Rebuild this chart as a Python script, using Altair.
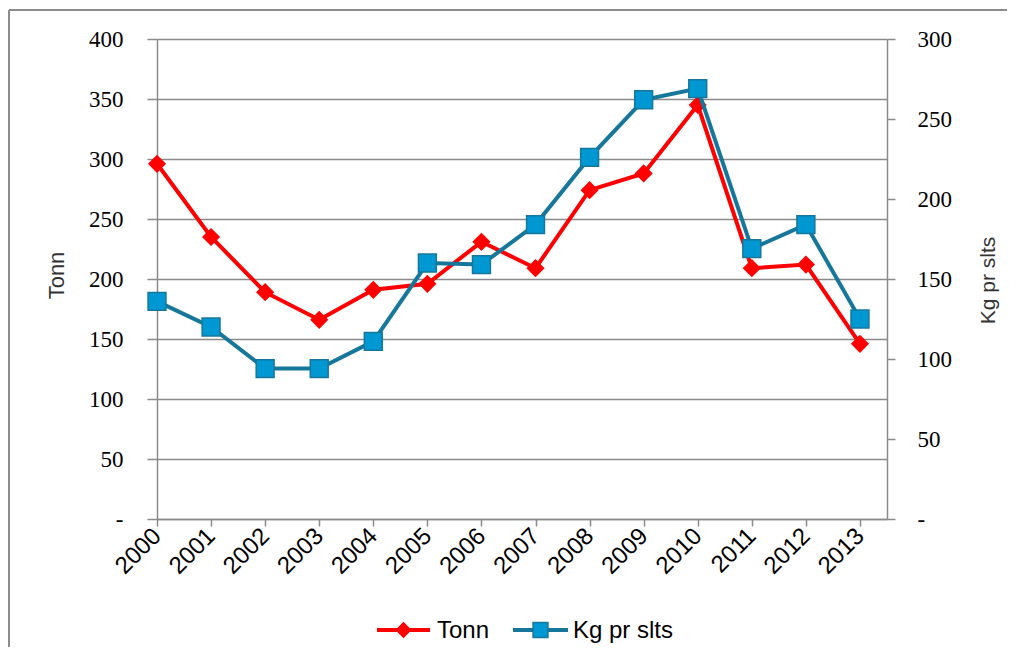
import altair as alt
import pandas as pd

years = [2000, 2001, 2002, 2003, 2004, 2005, 2006, 2007, 2008, 2009, 2010, 2011, 2012, 2013]
tonn = [296, 235, 189, 166, 191, 196, 231, 209, 274, 288, 345, 209, 212, 146]
kg_pr_slts = [136, 120, 94, 94, 111, 160, 159, 184, 226, 262, 269, 169, 184, 125]
series_names = ["Tonn", "Kg pr slts"]
left_ticks = [0, 50, 100, 150, 200, 250, 300, 350, 400]
right_ticks = [0, 50, 100, 150, 200, 250, 300]

df = pd.DataFrame({"year": years, "tonn": tonn, "kg": kg_pr_slts})

W, H = 730, 480
RED = "#FF0000"
TEAL = "#17779A"
BLUE = "#0098D2"
GRID = "#8A8A8A"
NUMFONT = "Liberation Serif"
SANS = "Liberation Sans"

x_enc = alt.X(
    "year:Q",
    scale=alt.Scale(domain=[2000, 2013.5], nice=False, zero=False),
    axis=alt.Axis(
        values=years, format="d", title=None, grid=False,
        labelAngle=-45, labelAlign="right", labelBaseline="middle",
        labelFont=SANS, labelFontSize=24, labelColor="#000000",
        labelPadding=6, tickSize=7, tickColor=GRID, tickWidth=1.5,
        domainColor=GRID, domainWidth=1.5, labelOverlap=False,
    ),
)

zero_dash = "datum.value == 0 ? '-' : datum.label"

y_left = alt.Y(
    "tonn:Q",
    scale=alt.Scale(domain=[0, 400], nice=False),
    axis=alt.Axis(
        values=left_ticks, title="Tonn", grid=True, gridColor=GRID, gridWidth=1.5,
        labelExpr=zero_dash, labelFont=NUMFONT, labelFontSize=23, labelColor="#000000",
        labelPadding=24, tickSize=10, tickColor=GRID, tickWidth=1.5,
        domainColor=GRID, domainWidth=1.5,
        titleFont=SANS, titleFontSize=22, titleFontWeight="normal", titleColor="#333333",
        titleAngle=270, titleX=-101, titleY=236, titleAlign="center", titleBaseline="middle",
    ),
)

y_right = alt.Y(
    "kg:Q",
    scale=alt.Scale(domain=[0, 300], nice=False),
    axis=alt.Axis(
        orient="right", values=right_ticks, title="Kg pr slts", grid=False,
        labelExpr=zero_dash, labelFont=NUMFONT, labelFontSize=23, labelColor="#000000",
        labelPadding=22, tickSize=8, tickColor=GRID, tickWidth=1.5,
        domainColor=GRID, domainWidth=1.5,
        titleFont=SANS, titleFontSize=21, titleFontWeight="normal", titleColor="#333333",
        titleAngle=270, titleX=101, titleY=241, titleAlign="center", titleBaseline="middle",
    ),
)

base = alt.Chart(df)

tonn_line = base.mark_line(color=RED, strokeWidth=4).encode(x=x_enc, y=y_left)
tonn_pts = base.mark_point(shape="diamond", filled=True, color=RED, size=330, opacity=1).encode(x=x_enc, y=y_left)
tonn_layer = alt.layer(tonn_line, tonn_pts)

kg_line = base.mark_line(color=TEAL, strokeWidth=4).encode(x=x_enc, y=y_right)
kg_pts = base.mark_point(shape="square", filled=True, fill=BLUE, stroke=TEAL, strokeWidth=1.5,
                         size=320, opacity=1).encode(x=x_enc, y=y_right)
kg_layer = alt.layer(kg_line, kg_pts)

# outer frame: only top and left edges are visible in the reference (decoration)
one = alt.Data(values=[{}])
frame_top = alt.Chart(one).mark_rule(color="#8C8C8C", strokeWidth=2).encode(
    x=alt.value(-148), x2=alt.value(W + 300), y=alt.value(-29))
frame_left = alt.Chart(one).mark_rule(color="#8C8C8C", strokeWidth=2).encode(
    x=alt.value(-148), y=alt.value(-29), y2=alt.value(H + 300))

# manual legend (decoration)
def legend_item(name, x0, x1, color, shape, fill, stroke, size, tx):
    d = alt.Data(values=[{"label": name}])
    ln = alt.Chart(d).mark_rule(color=color, strokeWidth=4).encode(
        x=alt.value(x0), x2=alt.value(x1), y=alt.value(591))
    pt = alt.Chart(d).mark_point(shape=shape, filled=True, fill=fill, stroke=stroke,
                                 strokeWidth=1.5, size=size, opacity=1).encode(
        x=alt.value((x0 + x1) / 2), y=alt.value(591))
    tx_ = alt.Chart(d).mark_text(align="left", baseline="middle", font=SANS, fontSize=24,
                                 color="#000000").encode(
        x=alt.value(tx), y=alt.value(592), text="label:N")
    return [ln, pt, tx_]

leg = legend_item(series_names[0], 220, 273, RED, "diamond", RED, RED, 200, 280) + \
      legend_item(series_names[1], 356, 411, TEAL, "square", BLUE, TEAL, 220, 416)

chart = alt.layer(frame_top, frame_left, tonn_layer, kg_layer, *leg).resolve_scale(
    y="independent"
).properties(
    width=W, height=H,
    autosize=alt.AutoSizeParams(type="none"),
    padding={"left": 149, "top": 31, "right": 120, "bottom": 128},
    background="white",
).configure_view(stroke=None)

chart.save("out.html", embed_options={"renderer": "svg", "actions": False})
